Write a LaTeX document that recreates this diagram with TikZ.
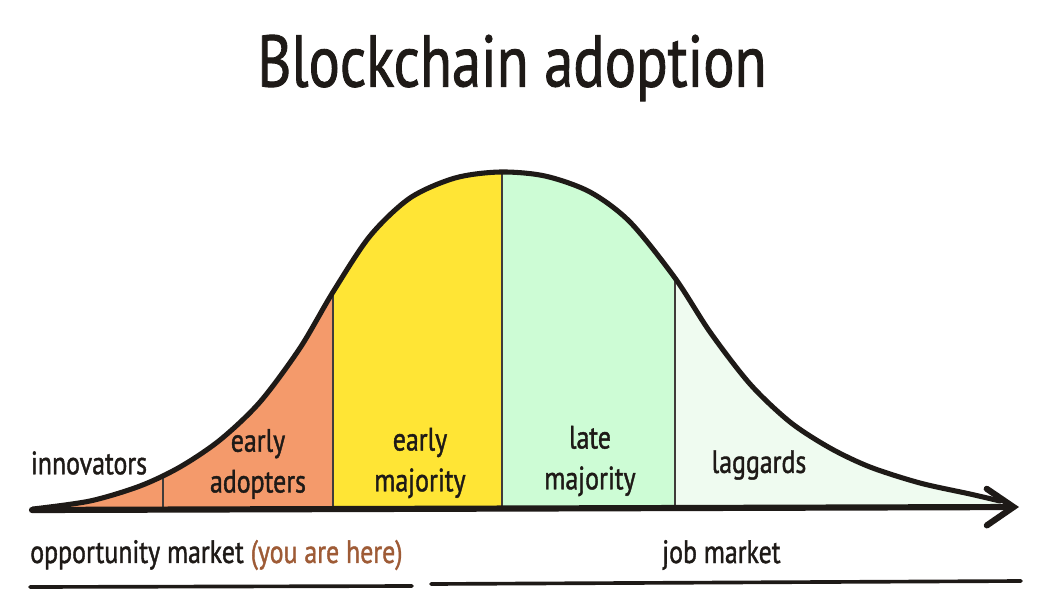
\documentclass[tikz,border=0pt]{standalone}
\usepackage{fontspec}
\setmainfont{PT Sans}[FakeStretch=0.8, FakeBold=1.2]
\usepackage{tikz}
\usetikzlibrary{arrows.meta}

\definecolor{innocol}{HTML}{F49A6B}
\definecolor{earlycol}{HTML}{FFE535}
\definecolor{latecol}{HTML}{CDFCD5}
\definecolor{lagcol}{HTML}{EFFBF0}
\definecolor{herecol}{HTML}{9E5B36}
\definecolor{inkcol}{HTML}{1E1A17}

\newcommand\bellpts{(33,509) (90,501) (140,486) (180,467) (220,440) (260,402) (300,348) (333,292) (370,236) (410,198) (455,178) (500,172) (545,176) (590,192) (630,222) (675,278) (710,332) (750,384) (790,422) (830,448) (870,467) (920,483) (970,494) (1000,501)}

\begin{document}
\begin{tikzpicture}[x=0.025cm, y=-0.025cm,
    lbl/.style={font=\fontsize{23}{29}\selectfont, text=inkcol, align=center, inner sep=0pt},
    divider/.style={draw=inkcol!85, line width=1.3pt}]
    \useasboundingbox (0,0) rectangle (1048,606);

    % title
    \node[font=\fontsize{52}{58}\selectfont, text=inkcol] (title) at (512,68) {Blockchain adoption};

    % areas under the curve
    \begin{scope}
        \clip plot[smooth] coordinates {\bellpts} -- (1000,510) -- cycle;
        \fill[innocol] (0,100) rectangle (333,520);
        \fill[earlycol] (333,100) rectangle (502,520);
        \fill[latecol] (502,100) rectangle (675,520);
        \fill[lagcol] (675,100) rectangle (1048,520);
        % dividers
        \draw[divider] (163,510) -- (163,100);
        \draw[divider] (333,510) -- (333,100);
        \draw[divider] (502,510) -- (502,100);
        \draw[divider] (675,510) -- (675,100);
    \end{scope}

    % curve and axis
    \draw[inkcol, line width=3.6pt, line cap=round, line join=round] plot[smooth] coordinates {\bellpts};
    \coordinate (axstart) at (32,510);
    \coordinate (axend) at (1019,507);
    \draw[inkcol, line width=4.4pt, line cap=round,
        -{Straight Barb[length=19pt 0, width=26pt 0, line cap=round]}] (axstart) -- (axend);

    % nodes: segment labels
    \node[lbl] (innov) at (89,463) {innovators};
    \node[lbl] (eadopt) at (258,464) {early\\adopters};
    \node[lbl] (emaj) at (420,463) {early\\majority};
    \node[lbl] (lmaj) at (590,461) {late\\majority};
    \node[lbl] (lagg) at (759,465) {laggards};

    % nodes: markets
    \node[lbl, anchor=west] (opp) at (30,555) {opportunity market \textcolor{herecol}{(you are here)}};
    \node[lbl, anchor=west] (job) at (662,555) {job market};

    % underlines
    \coordinate (oppl) at (30,587);
    \coordinate (oppr) at (412,586);
    \coordinate (jobl) at (431,584);
    \coordinate (jobr) at (1021,581);
    \draw[inkcol, line width=2.6pt, line cap=round] (oppl) -- (oppr);
    \draw[inkcol, line width=2.6pt, line cap=round] (jobl) -- (jobr);
\end{tikzpicture}
\end{document}
